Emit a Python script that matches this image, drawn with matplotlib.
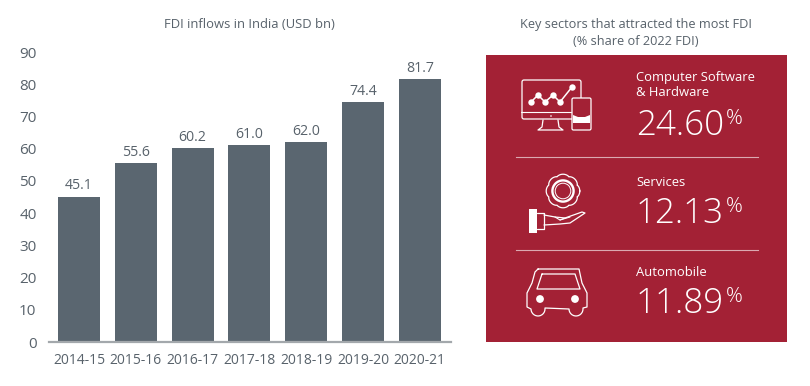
#!/usr/bin/env python3
"""FDI inflows in India, with a panel of the top sectors."""
import numpy as np
import matplotlib
matplotlib.use("Agg")
import matplotlib.pyplot as plt
from matplotlib.patches import Rectangle, Circle, FancyBboxPatch, Polygon

years = ["2014-15", "2015-16", "2016-17", "2017-18", "2018-19", "2019-20", "2020-21"]
inflows = [45.1, 55.6, 60.2, 61.0, 62.0, 74.4, 81.7]
yticks = [0, 10, 20, 30, 40, 50, 60, 70, 80, 90]
sectors = ["Computer Software\n& Hardware", "Services", "Automobile"]
shares = ["24.60", "12.13", "11.89"]

BAR = "#5a6670"
RED = "#a32135"
TXT = "#58626b"
W, H = 810, 386

plt.rcParams["font.family"] = ["Open Sans", "DejaVu Sans"]


def outline(ax, pts, lw=0.9, closed=False):
    xs, ys = zip(*pts)
    if closed:
        xs, ys = xs + xs[:1], ys + ys[:1]
    ax.plot(xs, ys, color="white", lw=lw, solid_joinstyle="round", solid_capstyle="round")


def arc(cx, cy, r, a0, a1, n=14):
    t = np.radians(np.linspace(a0, a1, n))
    return list(zip(cx + r * np.cos(t), cy + r * np.sin(t)))


def computer_icon(ax):
    ax.add_patch(FancyBboxPatch((522, 80), 59, 39, boxstyle="round,pad=0,rounding_size=2",
                                fc="none", ec="white", lw=0.9))
    outline(ax, [(521, 112), (571, 112)], 0.8)
    outline(ax, [(543, 120), (542, 127), (538, 130), (563, 130), (559, 127), (558, 120)], 0.9)
    ax.add_patch(Circle((551, 116), 0.8, fc="white", ec="none"))
    ax.add_patch(FancyBboxPatch((572, 98), 19, 32, boxstyle="round,pad=0,rounding_size=1.5",
                                fc=RED, ec="white", lw=0.9, zorder=3))
    ax.add_patch(Polygon([(573, 115), (578, 117), (585, 117), (590, 115), (590, 123), (573, 123)],
                         fc="white", ec="none", zorder=4))
    outline(ax, [(578, 100), (585, 100)], 0.7)
    px = [531, 538, 545, 553, 560, 572]
    py = [102, 95, 102, 95, 102, 87]
    ax.plot(px, py, color="white", lw=1.1, marker="o", ms=4.6, mew=0)


def gear_icon(ax):
    t = np.linspace(0, 2 * np.pi, 240)
    r = 15.2 + 1.6 * np.abs(np.cos(4 * t)) ** 0.6
    ax.plot(563 + r * np.cos(t), 191 + r * np.sin(t), color="white", lw=0.9)
    ax.add_patch(Circle((563, 191), 10.6, fc="none", ec="white", lw=1.7))
    ax.add_patch(Circle((563, 191), 7.8, fc="none", ec="white", lw=0.7))


def hand_icon(ax):
    ax.add_patch(Rectangle((529, 209), 8, 24, fc="white", ec="none"))
    outline(ax, [(537, 213), (544, 213), (544, 229), (537, 229)], 0.9)
    outline(ax, [(544, 215), (555, 217), (565, 218), (582, 212), (585, 213), (570, 223),
                 (560, 224), (544, 225)], 0.9)
    outline(ax, [(560, 220), (570, 217)], 0.8)
    outline(ax, [(555, 217), (560, 220), (565, 218)], 0.8)


def car_icon(ax):
    verts = [(538, 269), (579, 269), (582, 283), (587, 293), (587, 307), (583, 308)]
    verts += arc(576, 309, 7, 0, 180)
    verts += [(545, 308)]
    verts += arc(538, 309, 7, 0, 180)
    verts += [(527, 307), (527, 293), (532, 283), (535, 272)]
    outline(ax, verts, 0.9, closed=True)
    outline(ax, [(542, 274), (575, 274), (580, 289), (537, 289)], 0.9, closed=True)
    ax.add_patch(Circle((540, 299), 3.9, fc="white", ec="none"))
    ax.add_patch(Circle((575, 299), 3.9, fc="white", ec="none"))


fig = plt.figure(figsize=(W / 100, H / 100), dpi=100, facecolor="white")

# bar chart, placed in pixels
x0, x1, y0, y1 = 49, 451, 342, 52
ax = fig.add_axes([x0 / W, 1 - y0 / H, (x1 - x0) / W, (y0 - y1) / H])
ax.bar(range(len(years)), inflows, width=0.74, color=BAR, zorder=2)
for i, v in enumerate(inflows):
    ax.text(i, v + 1.0, f"{v:.1f}", ha="center", va="bottom", fontsize=10.2, color=TXT)
ax.set_xlim(-0.528, 6.55)
ax.set_ylim(0, 90)
ax.set_yticks(yticks)
ax.set_xticks(range(len(years)), years)
ax.tick_params(axis="both", length=0, labelcolor=TXT)
ax.tick_params(axis="y", labelsize=11, pad=9)
ax.tick_params(axis="x", labelsize=10, pad=8)
for s in ("top", "right", "left"):
    ax.spines[s].set_visible(False)
ax.spines["bottom"].set_color("#a3a8ac")
ax.spines["bottom"].set_linewidth(1.6)

# overlay in pixel coordinates for titles and the sector panel
ov = fig.add_axes([0, 0, 1, 1])
ov.set_xlim(0, W)
ov.set_ylim(H, 0)
ov.axis("off")
ov.set_zorder(3)

ov.text(249, 24, "FDI inflows in India (USD bn)", ha="center", va="center", fontsize=9.4, color=TXT)
ov.text(636, 33, "Key sectors that attracted the most FDI\n(% share of 2022 FDI)", ha="center",
        va="center", fontsize=9.15, color=TXT, linespacing=1.35)

ov.add_patch(Rectangle((486, 55), 301, 287, fc=RED, ec="none"))
for yy in (157, 250):
    ov.plot([516, 758], [yy, yy], color="#dba9b1", lw=0.8)

label_y = [85, 183, 272]
value_y = [135, 223, 313]
for name, share, ly, vy in zip(sectors, shares, label_y, value_y):
    ov.text(636, ly, name, ha="left", va="center", fontsize=9.4, color="white", linespacing=1.3)
    ov.text(636, vy, share, ha="left", va="baseline", fontsize=25.2, color="white", fontweight="light")
    ov.text(726, vy - 11, "%", ha="left", va="baseline", fontsize=15, color="white", fontweight="light")

computer_icon(ov)
gear_icon(ov)
hand_icon(ov)
car_icon(ov)

fig.savefig("out.png", dpi=100)
